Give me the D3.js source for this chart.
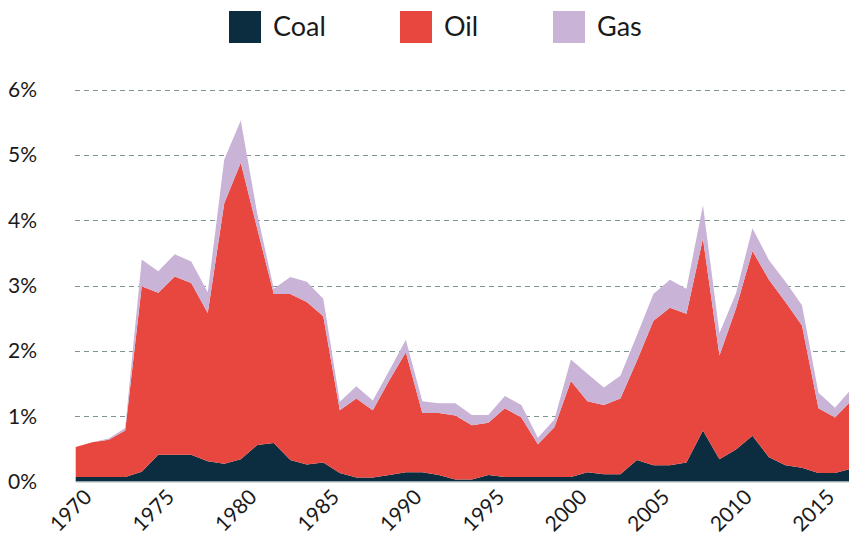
<!DOCTYPE html>
<html>
<head>
<meta charset="utf-8">
<script src="https://cdn.jsdelivr.net/npm/d3@7"></script>
<style>
  html, body { margin: 0; padding: 0; background: #ffffff; }
  svg { display: block; font-family: Lato, "Open Sans", sans-serif; }
</style>
</head>
<body>
<svg id="chart" width="849" height="546"></svg>
<script>
// ---- data (share of GDP, %) ----
const years = d3.range(1970, 2018);
const coal = [0.07,0.07,0.07,0.07,0.15,0.41,0.41,0.41,0.31,0.27,
              0.34,0.56,0.59,0.33,0.26,0.29,0.13,0.06,0.06,0.10,
              0.14,0.14,0.10,0.03,0.03,0.10,0.07,0.07,0.07,0.07,
              0.07,0.14,0.11,0.11,0.33,0.25,0.25,0.29,0.78,0.34,
              0.49,0.70,0.37,0.25,0.21,0.13,0.13,0.20];
const oil  = [0.46,0.53,0.57,0.71,2.84,2.48,2.73,2.63,2.27,3.99,
              4.54,3.31,2.28,2.54,2.49,2.24,0.96,1.21,1.03,1.45,
              1.84,0.91,0.95,0.98,0.83,0.80,1.05,0.91,0.50,0.76,
              1.47,1.09,1.06,1.16,1.52,2.21,2.41,2.28,2.94,1.59,
              2.16,2.83,2.72,2.50,2.18,0.99,0.85,1.04];
const gas  = [0.00,0.00,0.02,0.04,0.41,0.33,0.34,0.33,0.32,0.67,
              0.65,0.23,0.08,0.26,0.31,0.27,0.13,0.19,0.15,0.15,
              0.19,0.18,0.15,0.19,0.16,0.12,0.19,0.19,0.10,0.12,
              0.33,0.42,0.27,0.35,0.39,0.41,0.43,0.38,0.51,0.34,
              0.23,0.35,0.30,0.31,0.31,0.24,0.15,0.18];
const seriesNames = ["Coal", "Oil", "Gas"];
const seriesColors = ["#0c2d40", "#e8473f", "#c9b3d7"];
const yTicks = [0, 1, 2, 3, 4, 5, 6];
const xTicks = [1970, 1975, 1980, 1985, 1990, 1995, 2000, 2005, 2010, 2015];

// ---- build table ----
const table = years.map((yr, i) => ({ year: yr, Coal: coal[i], Oil: oil[i], Gas: gas[i] }));
const stack = d3.stack().keys(seriesNames);
const layers = stack(table);

const svg = d3.select("#chart");
const x = d3.scaleLinear().domain([1970, 2017]).range([75.7, 851.5]);
const y = d3.scaleLinear().domain([0, 6]).range([481.5, 89.7]);

// gridlines
svg.append("g").selectAll("line")
  .data(yTicks.filter(t => t > 0))
  .join("line")
  .attr("x1", 75).attr("x2", 849)
  .attr("y1", d => Math.round(y(d)) + 0.5)
  .attr("y2", d => Math.round(y(d)) + 0.5)
  .attr("stroke", "#7f948f")
  .attr("stroke-width", 1)
  .attr("stroke-dasharray", "5,4");

// areas
const area = d3.area()
  .x(d => x(d.data.year))
  .y0(d => y(d[0]))
  .y1(d => y(d[1]));

svg.append("g").selectAll("path")
  .data(layers)
  .join("path")
  .attr("fill", (d, i) => seriesColors[i])
  .attr("d", area);

// baseline
svg.append("line")
  .attr("x1", 75.7).attr("x2", 849)
  .attr("y1", y(0) + 0.5).attr("y2", y(0) + 0.5)
  .attr("stroke", "#a9b9c1")
  .attr("stroke-width", 1.2);

// y labels
svg.append("g").selectAll("text")
  .data(yTicks)
  .join("text")
  .attr("x", 37)
  .attr("y", d => y(d))
  .attr("dy", "0.35em")
  .attr("text-anchor", "end")
  .attr("font-size", 21)
  .attr("fill", "#1a1a1a")
  .text(d => d + "%");

// x axis
const xAxis = d3.axisBottom(x)
  .tickValues(xTicks)
  .tickFormat(d3.format("d"))
  .tickSize(6);
const gx = svg.append("g")
  .attr("transform", `translate(0,${y(0)})`)
  .call(xAxis);
gx.select(".domain").remove();
gx.selectAll(".tick line").remove();
gx.selectAll(".tick text")
  .attr("font-size", 21)
  .attr("font-family", "Lato, 'Open Sans', sans-serif")
  .attr("fill", "#1a1a1a")
  .attr("text-anchor", "end")
  .attr("transform", "rotate(-45)");

// legend
const legendX = [229, 400, 553];
const lg = svg.append("g").selectAll("g")
  .data(seriesNames)
  .join("g")
  .attr("transform", (d, i) => `translate(${legendX[i]},11)`);
lg.append("rect")
  .attr("width", 32).attr("height", 32)
  .attr("fill", (d, i) => seriesColors[i]);
lg.append("text")
  .attr("x", 44).attr("y", 25)
  .attr("font-size", 27)
  .attr("fill", "#1a1a1a")
  .text(d => d);
</script>
</body>
</html>
